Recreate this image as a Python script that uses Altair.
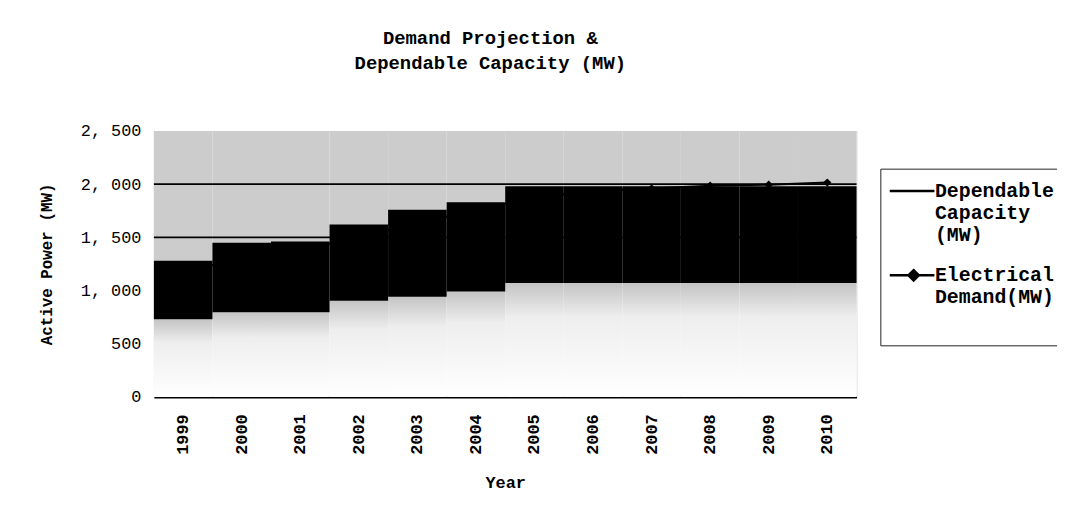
import altair as alt
import pandas as pd

years = ["1999", "2000", "2001", "2002", "2003", "2004",
         "2005", "2006", "2007", "2008", "2009", "2010"]
# top edge of the dark band (dependable capacity steps)
capacity_top = [1280, 1450, 1460, 1620, 1760, 1830, 1980, 1980, 1980, 1980, 1980, 1980]
# lower edge of the dark band
band_low = [730, 795, 795, 905, 942, 990, 1070, 1070, 1070, 1070, 1070, 1070]
# electrical demand (markers mostly hidden in the dark band)
demand = [1180, 1300, 1380, 1500, 1640, 1750, 1880, 1930, 1960, 1985, 1995, 2015]
gridline_values = [1500, 2000]
y_ticks = [0, 500, 1000, 1500, 2000, 2500]
series = ["Dependable Capacity (MW)", "Electrical Demand(MW)"]

FONT = "Liberation Mono"

df = pd.DataFrame({"year": years, "cap": capacity_top, "low": band_low, "demand": demand})
grid_df = pd.DataFrame({"g": gridline_values})
leg_df = pd.DataFrame({"series": series, "year": [years[0]] * 2, "v": [0, 0]})

x_enc = alt.X("year:O", title="Year",
              scale=alt.Scale(paddingInner=0, paddingOuter=0),
              axis=alt.Axis(labelAngle=270, labelFont=FONT, labelFontSize=17,
                            labelFontWeight="bold", labelColor="black",
                            labelPadding=17, ticks=False, domainColor="black",
                            domainWidth=2, titleFont=FONT, titleFontSize=17,
                            titleFontWeight="bold", titleColor="black",
                            titlePadding=20))
y_scale = alt.Scale(domain=[0, 2500], nice=False)
y_axis = alt.Axis(values=y_ticks, title="Active Power (MW)", grid=False, domain=False,
                  ticks=False, labelFont=FONT, labelFontSize=17, labelColor="black",
                  labelPadding=13,
                  labelExpr="replace(format(datum.value, ','), ',', ', ')",
                  titleFont=FONT, titleFontSize=16, titleFontWeight="bold",
                  titleColor="black", titlePadding=26)

base = alt.Chart(df)

upper = base.mark_bar(color="#cccccc").encode(
    x=x_enc, y=alt.Y("low:Q", scale=y_scale, axis=y_axis), y2=alt.datum(2500))

grad = alt.Gradient(gradient="linear",
                    stops=[alt.GradientStop(color="#c4c4c4", offset=0),
                           alt.GradientStop(color="#eeeeee", offset=0.3),
                           alt.GradientStop(color="#ffffff", offset=1)],
                    x1=0, x2=0, y1=0, y2=1)
lower = base.mark_bar(color=grad).encode(
    x=x_enc, y=alt.Y("low:Q", scale=y_scale), y2=alt.datum(0))

dark = base.mark_bar(color="black").encode(
    x=x_enc, y=alt.Y("low:Q", scale=y_scale), y2="cap:Q")

rules = alt.Chart(grid_df).mark_rule(color="black", strokeWidth=1.6).encode(
    y=alt.Y("g:Q", scale=y_scale))

dem_line = base.mark_line(color="black", strokeWidth=2).encode(
    x=x_enc, y=alt.Y("demand:Q", scale=y_scale))
dem_pts = base.mark_point(shape="diamond", filled=True, color="black", size=70, opacity=1).encode(
    x=x_enc, y=alt.Y("demand:Q", scale=y_scale))

# legend symbols (custom paths, unit = symbol radius)
line_path = "M-1,0L2.46,0"
diamond_path = ("M-1,0L2.46,0"
                "M0.85,-0.4L1.25,0L0.85,0.4L0.45,0Z"
                "M0.85,-0.25L1.1,0L0.85,0.25L0.6,0Z"
                "M0.85,-0.1L0.95,0L0.85,0.1L0.75,0Z")
legend_layer = alt.Chart(leg_df).mark_point(filled=False, size=0, color="black").encode(
    x=x_enc, y=alt.Y("v:Q", scale=y_scale),
    shape=alt.Shape("series:N",
                    scale=alt.Scale(domain=series, range=[line_path, diamond_path]),
                    legend=alt.Legend(
                        title=" ", titleOrient="bottom", titleFontSize=20,
                        titlePadding=10,
                        orient="none", legendX=732, legendY=38,
                        symbolSize=676, symbolOpacity=1, symbolFillColor="black",
                        symbolStrokeColor="black", symbolStrokeWidth=2.5,
                        labelFont=FONT, labelFontSize=20, labelFontWeight="bold",
                        labelColor="black", labelOffset=18, labelLimit=300,
                        labelExpr="datum.label == 'Dependable Capacity (MW)' ? ['Dependable','Capacity','(MW)'] : ['Electrical','Demand(MW)']",
                        strokeColor="#222222", padding=8, rowPadding=16,
                        fillColor="white")))

chart = alt.layer(upper, lower, dark, rules, dem_line, dem_pts, legend_layer).properties(
    width=708, height=268,
    title=alt.TitleParams(text=["Demand Projection &", "Dependable Capacity (MW)"],
                          font=FONT, fontSize=19, fontWeight="bold", color="black",
                          lineHeight=26, anchor="middle", frame="group", offset=49,
                          dx=-15),
    autosize=alt.AutoSizeParams(type="none"),
    padding={"left": 147, "top": 122, "right": 202, "bottom": 108},
).configure_view(stroke="#444444", strokeWidth=1, strokeDash=[3, 2]).configure(
    background="white")

chart.save("out.html", embed_options={"renderer": "svg", "actions": False})
